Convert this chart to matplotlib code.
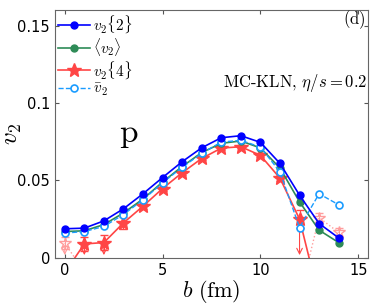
import numpy as np
import matplotlib.pyplot as plt

plt.rcParams['mathtext.fontset'] = 'cm'
plt.rcParams['font.family'] = 'DejaVu Sans'

# impact parameter (fm)
b = np.arange(0, 15)

v2_2 = [0.0188, 0.0192, 0.0239, 0.0317, 0.0414, 0.0519, 0.0621, 0.0711,
        0.0776, 0.0789, 0.0746, 0.0610, 0.0405, 0.0222, 0.0129]
v2_mean = [0.0170, 0.0175, 0.0215, 0.0290, 0.0380, 0.0490, 0.0590, 0.0680,
           0.0740, 0.0755, 0.0710, 0.0580, 0.0362, 0.0179, 0.0099]
v2_bar = [0.0160, 0.0170, 0.0203, 0.0280, 0.0375, 0.0485, 0.0585, 0.0675,
          0.0748, 0.0759, 0.0716, 0.0555, 0.0196, 0.0414, 0.0343]
# v2{4}: negative values mean v2{4}^4 < 0, plotted mirrored (open stars)
v2_4 = [-0.0095, 0.0090, 0.0099, 0.0226, 0.0334, 0.0448, 0.0550, 0.0642,
        0.0709, 0.0718, 0.0662, 0.0515, 0.0250, -0.0260, -0.0164]
v2_4_err = [0.004, 0.0045, 0.0046, 0.004, 0.002, 0.0015, 0.0012, 0.001,
            0.001, 0.001, 0.0012, 0.002, 0.006, 0.003, 0.003]
arrow_b = [0, 1, 2, 12]

blue = '#0000ff'
green = '#2e8b57'
red = '#ff4545'
pink = '#ff9c9c'
cyan = '#1a9cff'

fig = plt.figure(figsize=(3.74, 3.07), dpi=100)
ax = fig.add_axes([0.147, 0.16, 0.837, 0.807])

v2_4 = np.array(v2_4)
err = np.array(v2_4_err)

# mirrored (negative) v2{4}
neg = -v2_4
ax.plot(b, neg, ':', color=pink, lw=1, zorder=1)
mask = neg > 0
ax.plot(b[mask], neg[mask], '*', mfc='none', mec=pink, ms=9, zorder=1)
ax.errorbar(b[mask], neg[mask], yerr=err[mask], fmt='none', ecolor=pink,
            capsize=3, lw=0.8, zorder=1)

ax.plot(b, v2_2, '-o', color=blue, ms=5, lw=1.2, label=r'$v_2\{2\}$', zorder=4)
ax.plot(b, v2_mean, '-o', color=green, ms=5, lw=1.2,
        label=r'$\langle v_2\rangle$', zorder=3)
pos = v2_4 > 0
ax.errorbar(b[pos], v2_4[pos], yerr=err[pos], fmt='none', ecolor=red,
            capsize=3, lw=0.8, zorder=2)
ax.plot(b, v2_4, '-', color=red, lw=1.2, zorder=2)
ax.plot(b[pos], v2_4[pos], '*', color=red, ms=10, zorder=2)
ax.plot([], [], '-*', color=red, ms=10, lw=1.2, label=r'$v_2\{4\}$')
ax.plot(b, v2_bar, '--o', color=cyan, mfc='white', mec=cyan, ms=5, lw=1,
        mew=1.2, label=r'$\bar{v}_2$', zorder=3)

# downward arrows for error bars reaching below zero
for xb in arrow_b:
    y = abs(v2_4[xb])
    c = pink if v2_4[xb] < 0 else red
    ax.annotate('', xy=(xb, 0.0), xytext=(xb, y),
                arrowprops=dict(arrowstyle='->', color=c, lw=0.8,
                                mutation_scale=10), zorder=2)

ax.set_xlim(-0.5, 15.5)
ax.set_ylim(0, 0.16)
ax.set_xticks([0, 5, 10, 15])
ax.set_yticks([0, 0.05, 0.1, 0.15])
ax.set_yticklabels(['0', '0.05', '0.1', '0.15'])
ax.tick_params(direction='in', top=True, right=True, labelsize=10.5,
               length=3, color='#555555')
for s in ax.spines.values():
    s.set_color('#666666')

ax.set_xlabel(r'$b\ \mathrm{(fm)}$', fontsize=16, labelpad=0)
ax.set_ylabel(r'$v_2$', fontsize=18)
ax.yaxis.set_label_coords(-0.1, 0.5)

ax.text(3.25, 0.0805, r'$\mathrm{p}$', fontsize=24, ha='center', va='center')
ax.text(15.45, 0.113, r'$\mathrm{MC\text{-}KLN},\,\eta/s=0.2$', fontsize=12,
        ha='right', va='center')
ax.text(15.4, 0.154, r'$\mathrm{(d)}$', fontsize=12, ha='right', va='center')

ax.legend(loc='upper left', frameon=False, fontsize=11, handlelength=2.1,
          borderaxespad=0.1, labelspacing=0.05, handletextpad=0.2,
          borderpad=0.1)

fig.savefig('out.png', dpi=100)
